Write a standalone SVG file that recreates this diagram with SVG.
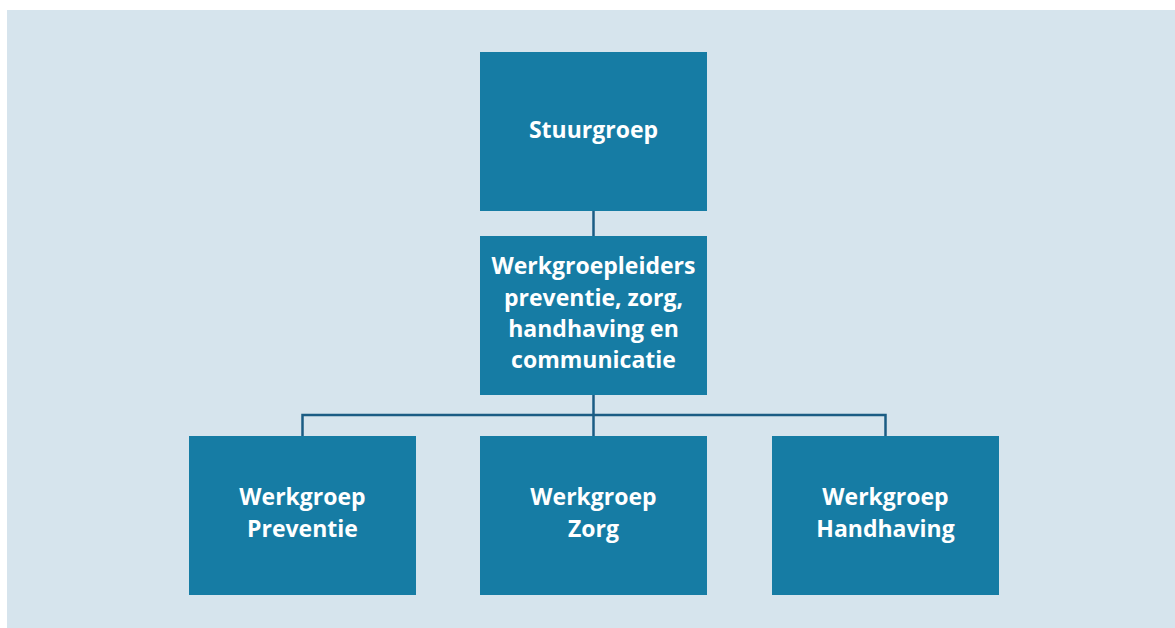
<svg xmlns="http://www.w3.org/2000/svg" width="1175" height="628" viewBox="0 0 1175 628">
<style>
.bg{fill:#d6e4ed}
.box{fill:#167ca4}
.lbl{font-family:"Open Sans","Noto Sans",sans-serif;font-weight:700;font-size:23px;fill:#ffffff;text-anchor:middle}
.con{stroke:#1b5c84;stroke-width:2.5;fill:none}
</style>
<rect class="bg" x="7" y="10" width="1168" height="618"/>
<g id="connectors">
<line class="con" x1="593.5" y1="210" x2="593.5" y2="237"/>
<line class="con" x1="593.5" y1="394" x2="593.5" y2="437"/>
<polyline class="con" points="302.5,437 302.5,415 885.5,415 885.5,437"/>
</g>
<g id="stuurgroep">
<rect class="box" x="480" y="52" width="227" height="159"/>
<text class="lbl" x="593.5" y="138">Stuurgroep</text>
</g>
<g id="werkgroepleiders">
<rect class="box" x="480" y="236" width="227" height="159"/>
<text class="lbl" x="593.5" y="274">Werkgroepleiders</text>
<text class="lbl" x="593.5" y="306">preventie, zorg,</text>
<text class="lbl" x="593.5" y="337">handhaving en</text>
<text class="lbl" x="593.5" y="368">communicatie</text>
</g>
<g id="werkgroep-preventie">
<rect class="box" x="189" y="436" width="227" height="159"/>
<text class="lbl" x="302.5" y="505">Werkgroep</text>
<text class="lbl" x="302.5" y="537">Preventie</text>
</g>
<g id="werkgroep-zorg">
<rect class="box" x="480" y="436" width="227" height="159"/>
<text class="lbl" x="593.5" y="505">Werkgroep</text>
<text class="lbl" x="593.5" y="537">Zorg</text>
</g>
<g id="werkgroep-handhaving">
<rect class="box" x="772" y="436" width="227" height="159"/>
<text class="lbl" x="885.5" y="505">Werkgroep</text>
<text class="lbl" x="885.5" y="537">Handhaving</text>
</g>
</svg>
